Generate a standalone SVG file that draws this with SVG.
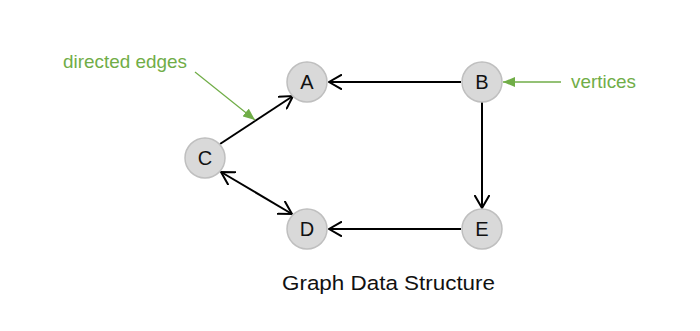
<svg xmlns="http://www.w3.org/2000/svg" width="700" height="331" viewBox="0 0 700 331">
<defs>
<style>
.node circle{fill:#d9d9d9;stroke:#bfbfbf;stroke-width:1.5}
.node text{font-family:"Liberation Sans",Arial,sans-serif;font-size:20px;fill:#111;text-anchor:middle}
.edge{stroke:#000;stroke-width:2;fill:none}
.note{stroke:#70ad47;stroke-width:1.3;fill:none}
.lbl{font-family:"Liberation Sans",Arial,sans-serif;font-size:18.5px;fill:#70ad47}
</style>
<marker id="open" viewBox="0 0 14 16" refX="13" refY="8" markerWidth="14" markerHeight="16" markerUnits="userSpaceOnUse" orient="auto-start-reverse">
<path d="M0,0.5 L13,8 L0,15.5" fill="none" stroke="#000" stroke-width="2"/>
</marker>
<marker id="tri" viewBox="0 0 12 10" refX="12" refY="5" markerWidth="12" markerHeight="10" markerUnits="userSpaceOnUse" orient="auto">
<path d="M0,0 L12,5 L0,10 Z" fill="#70ad47"/>
</marker>
</defs>
<rect width="700" height="331" fill="#fff"/>
<g id="connectors">
<line class="edge" x1="461" y1="82" x2="329" y2="82" marker-end="url(#open)"/>
<line class="edge" x1="482" y1="102" x2="482" y2="208" marker-end="url(#open)"/>
<line class="edge" x1="461" y1="229" x2="329" y2="229" marker-end="url(#open)"/>
<line class="edge" x1="220" y1="144" x2="293" y2="96" marker-end="url(#open)"/>
<line class="edge" x1="221" y1="172" x2="292" y2="214" marker-start="url(#open)" marker-end="url(#open)"/>
</g>
<g id="annotations">
<line class="note" x1="195" y1="72" x2="255" y2="120" marker-end="url(#tri)"/>
<text class="lbl" x="63" y="68" textLength="124" lengthAdjust="spacingAndGlyphs">directed edges</text>
<line class="note" x1="561" y1="82" x2="503" y2="82" marker-end="url(#tri)"/>
<text class="lbl" x="571" y="88" textLength="65" lengthAdjust="spacingAndGlyphs">vertices</text>
</g>
<g id="node-A" class="node"><circle cx="307" cy="82" r="20"/><text x="307" y="89">A</text></g>
<g id="node-B" class="node"><circle cx="482" cy="82" r="20"/><text x="482" y="89">B</text></g>
<g id="node-C" class="node"><circle cx="205" cy="158" r="20"/><text x="205" y="165">C</text></g>
<g id="node-D" class="node"><circle cx="307" cy="229" r="20"/><text x="307" y="236">D</text></g>
<g id="node-E" class="node"><circle cx="482" cy="229" r="20"/><text x="482" y="236">E</text></g>
<text x="282" y="290" font-family="'Liberation Sans',Arial,sans-serif" font-size="20.5" fill="#111" textLength="213" lengthAdjust="spacingAndGlyphs">Graph Data Structure</text>
</svg>
